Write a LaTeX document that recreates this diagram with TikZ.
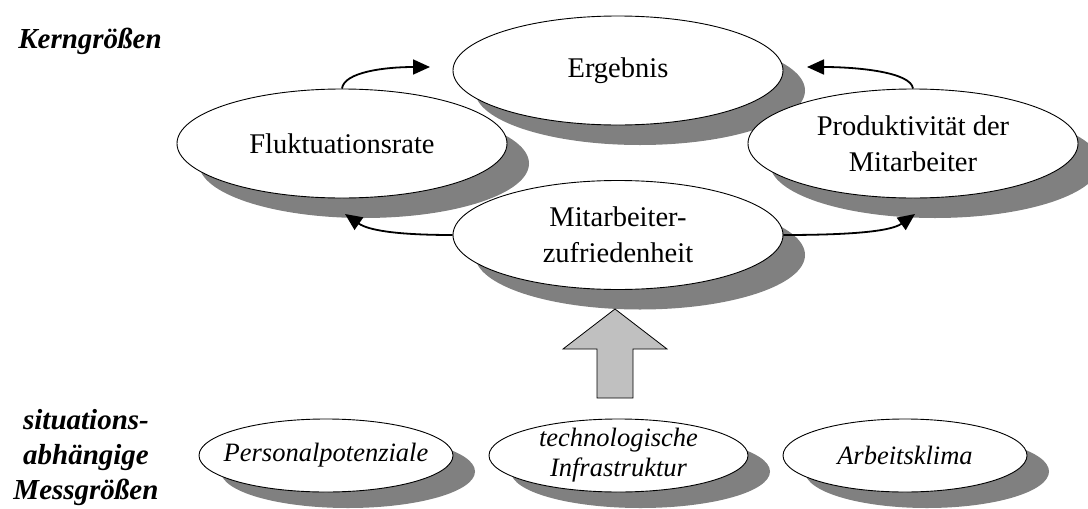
\documentclass[tikz,border=0pt]{standalone}
\usepackage{fontspec}
\setmainfont{Liberation Serif}
\usetikzlibrary{shapes.geometric,shadows,arrows.meta}
\definecolor{shadowgray}{HTML}{808080}
\definecolor{blockgray}{HTML}{C0C0C0}
\begin{document}
\begin{tikzpicture}[x=1pt,y=-1pt,
  bubble/.style={ellipse, draw, fill=white, line width=0.9pt, inner sep=0pt, align=center},
  core/.style={bubble, minimum width=330pt, minimum height=109pt,
    font=\fontsize{28.5}{36}\selectfont,
    drop shadow={shadow xshift=22pt, shadow yshift=-20pt, opacity=1, fill=shadowgray}},
  factor/.style={bubble, minimum height=73pt, inner xsep=-30pt, inner ysep=-14pt,
    font=\fontsize{26.5}{30}\selectfont\itshape,
    drop shadow={shadow xshift=22pt, shadow yshift=-16pt, opacity=1, fill=shadowgray}},
  heading/.style={font=\fontsize{29}{35}\selectfont\bfseries\itshape, align=center, inner sep=0pt},
  flow/.style={line width=1.8pt, -{Triangle[length=17pt,width=15pt]}},
  block/.style={fill=blockgray, draw, line width=0.8pt, line join=miter}
]
\useasboundingbox (0,0) rectangle (1088,509);

% row headings
\node[heading] (kern) at (90,41) {Kerngrößen};
\node[heading] (mess) at (86,458) {situations-\\abhängige\\Messgrößen};

% core measures (drawn back to front)
\node[core] (erg) at (618,70.5) {Ergebnis};
\node[core] (flu) at (342,143.5) {Fluktuationsrate};
\node[core] (pro) at (913,143.5) {Produktivität der\\Mitarbeiter};
\node[core] (mit) at (618,235) {Mitarbeiter-\\zufriedenheit};

% situational measures
\node[factor, minimum width=254pt] (pers) at (326,455.5) {Personalpotenziale};
\node[factor, minimum width=259pt] (tech) at (618.5,455.5) {technologische\\Infrastruktur};
\node[factor, minimum width=244pt] (klima) at (905,455.5) {Arbeitsklima};

% arrow ends near the target ellipses
\coordinate (erg-l) at (430,67);
\coordinate (erg-r) at (807,67);
\coordinate (flu-b) at (345,214);
\coordinate (pro-b) at (915,214);

% curved influence arrows
\draw[flow] (flu.north) .. controls (344,72) and (385,67) .. (erg-l);
\draw[flow] (pro.north) .. controls (911,72) and (857,67) .. (erg-r);
\draw[flow] (mit.west) .. controls (395,235) and (368,230) .. (flu-b);
\draw[flow] (mit.east) .. controls (845,235) and (890,232) .. (pro-b);

% block arrow from the situational measures up to satisfaction
\draw[block] (615,309) -- (667,349) -- (633,349) -- (633,398)
  -- (597,398) -- (597,349) -- (563,349) -- cycle;
\end{tikzpicture}
\end{document}
